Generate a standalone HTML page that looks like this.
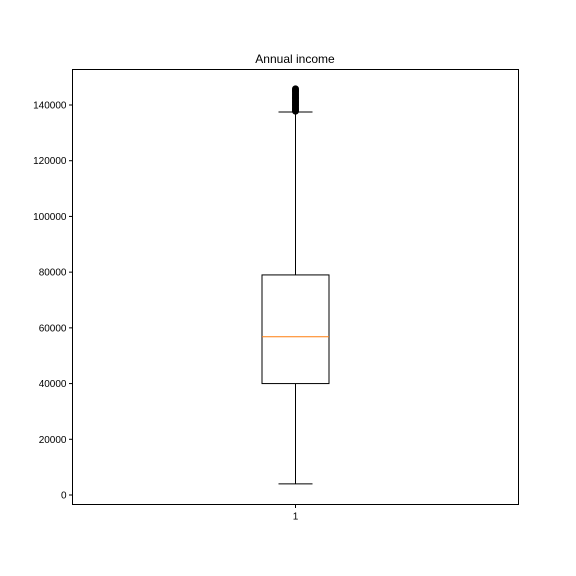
<!DOCTYPE html>
<html><head><meta charset="utf-8"><style>
html,body{margin:0;padding:0;background:#fff;}
svg{display:block;font-family:"Liberation Sans","DejaVu Sans",sans-serif;}
</style></head><body>
<svg id="chart" width="576" height="576" viewBox="0 0 576 576">
<rect x="0" y="0" width="576" height="576" fill="#fff"/>
<text x="295" y="63" text-anchor="middle" font-size="12" fill="#000">Annual income</text>
<g id="plot"></g>
<rect x="72.5" y="69.5" width="446" height="435" fill="none" stroke="#000" stroke-width="1"/>
</svg>
<script>
const categories = ["1"];
const whiskerLow = [4000];
const q1 = [40000];
const median = [56800];
const q3 = [79000];
const whiskerHigh = [137500];
const outliers = [137800,138300,138800,139300,139800,140300,140800,141300,141800,142300,142800,143300,143800,144300,144800,145300,145800];
const yTicks = [0,20000,40000,60000,80000,100000,120000,140000];

const L=72.5,R=518.5,T=69.5,B=504.5;
function y(v){return 495 - v*(390/140000);}
function x(i){return L + (R-L)*(i+1)/(categories.length+1);}
const ns="http://www.w3.org/2000/svg";
const g=document.getElementById('plot');
function el(t,a){const e=document.createElementNS(ns,t);for(const k in a)e.setAttribute(k,a[k]);g.appendChild(e);return e;}

yTicks.forEach(v=>{
  const l=el('line',{x1:L-3.5,x2:L,y1:y(v),y2:y(v),stroke:'#000','stroke-width':1});
  
  
  const t=el('text',{x:L-6,y:y(v)+3.5,'text-anchor':'end','font-size':10});
  t.textContent=v;
  
  
});
categories.forEach((c,i)=>{
  const cx=x(i);
  const l=el('line',{x1:cx,x2:cx,y1:B,y2:B+3.5,stroke:'#000','stroke-width':1});
  
  
  const t=el('text',{x:cx,y:B+15,'text-anchor':'middle','font-size':10});
  t.textContent=c;
  
  
  const hw=33.5, cw=17;
  const w1=el('line',{x1:cx,x2:cx,y1:y(q1[i]),y2:y(whiskerLow[i]),stroke:'#000','stroke-width':1});
  
  
  const w2=el('line',{x1:cx,x2:cx,y1:y(q3[i]),y2:y(whiskerHigh[i]),stroke:'#000','stroke-width':1});
  
  
  const c1=el('line',{x1:cx-cw,x2:cx+cw,y1:y(whiskerLow[i]),y2:y(whiskerLow[i]),stroke:'#000','stroke-width':1});
  
  
  const c2=el('line',{x1:cx-cw,x2:cx+cw,y1:y(whiskerHigh[i]),y2:y(whiskerHigh[i]),stroke:'#000','stroke-width':1});
  
  
  const b=el('rect',{x:cx-hw,y:y(q3[i]),width:hw*2,height:y(q1[i])-y(q3[i]),fill:'none',stroke:'#000','stroke-width':1});
  
  
  const m=el('line',{x1:cx-hw,x2:cx+hw,y1:y(median[i]),y2:y(median[i]),stroke:'#ff7f0e','stroke-width':1});
  
  
  outliers.forEach(v=>{
    const o=el('circle',{cx:cx,cy:y(v),r:3,fill:'#000',stroke:'#000','stroke-width':1});
    
    
  });
});
</script>
</body></html>
